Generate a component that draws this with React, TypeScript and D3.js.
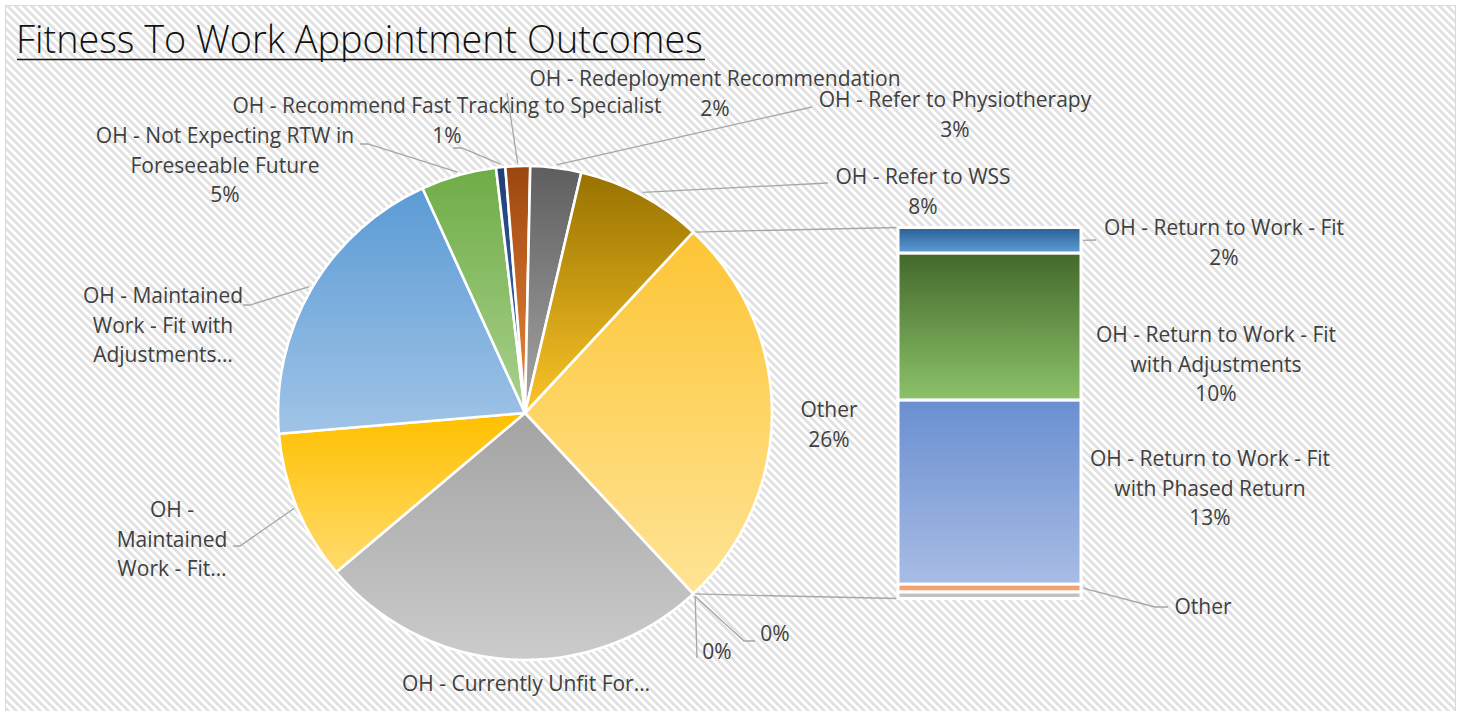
import React from "react";
import * as d3 from "d3";

// ---------- DATA ----------
const pieCategories = [
  "Other",
  "Zero A",
  "Zero B",
  "OH - Currently Unfit For...",
  "OH - Maintained Work - Fit...",
  "OH - Maintained Work - Fit with Adjustments...",
  "OH - Not Expecting RTW in Foreseeable Future",
  "OH - Recommend Fast Tracking to Specialist",
  "OH - Redeployment Recommendation",
  "OH - Refer to Physiotherapy",
  "OH - Refer to WSS",
];
// values for all pie slices except "Other" (which is the sum of the bar)
const pieValues = [0, 0, 25.6, 9.75, 19.4, 4.9, 0.6, 1.6, 3.3, 8.2];

const barCategories = [
  "OH - Return to Work - Fit",
  "OH - Return to Work - Fit with Adjustments",
  "OH - Return to Work - Fit with Phased Return",
  "Other",
  "Other (2)",
];
const barValues = [1.8, 10.3, 12.9, 0.55, 0.45];

const titleText = "Fitness To Work Appointment Outcomes";

// ---------- STYLE / LAYOUT ----------
const W = 1462;
const H = 711;
const cx = 525;
const cy = 413;
const R = 247;
const barX = 898;
const barW = 183;
const barTop = 227.5;
const barBottom = 598.5;
const FONT = "'Open Sans', 'Noto Sans', sans-serif";
const FS = 21;
const LH = 29.5;
const labelColor = "#404040";
const lineColor = "#a6a6a6";

const pieGradients: [string, string][] = [
  ["#fdc535", "#ffe496"], // Other
  ["#a5a5a5", "#c9c9c9"],
  ["#a5a5a5", "#c9c9c9"],
  ["#a3a3a3", "#cbcbcb"], // Currently unfit
  ["#ffc000", "#ffdb6e"], // Maintained fit
  ["#5b9bd5", "#a0c4e7"], // Maintained adj
  ["#6fac46", "#a9d18e"], // Not expecting
  ["#1f3e74", "#4472c4"], // Fast tracking
  ["#9b460f", "#ef8a3b"], // Redeploy
  ["#5e5e5e", "#a6a6a6"], // Physio
  ["#987200", "#fbc428"], // WSS
];
const barGradients: [string, string][] = [
  ["#295f93", "#5f9ed8"],
  ["#43682b", "#8cc26a"],
  ["#6a8fd1", "#a8bce5"],
  ["#f19a68", "#f4ab80"],
  ["#bdbdbd", "#c6c6c6"],
];

type LabelSpec = { x: number; y: number; lines: string[]; pct?: boolean; leader?: [number, number][] };

const pieLabels: LabelSpec[] = [
  { x: 829, y: 410, lines: ["Other"], pct: true },
  { x: 717, y: 652, lines: [], pct: true, leader: [[697, 658]] },
  { x: 775, y: 634, lines: [], pct: true, leader: [[744, 641], [755, 641]] },
  { x: 526, y: 684, lines: ["OH - Currently Unfit For…"] },
  { x: 172, y: 510, lines: ["OH -", "Maintained", "Work - Fit…"], leader: [[240, 546], [233, 546]] },
  { x: 163, y: 296, lines: ["OH - Maintained", "Work - Fit with", "Adjustments…"], leader: [[250, 305], [243, 305]] },
  { x: 225, y: 136, lines: ["OH - Not Expecting RTW in", "Foreseeable Future"], pct: true, leader: [[368, 144], [360, 144]] },
  { x: 447, y: 106, lines: ["OH - Recommend Fast Tracking to Specialist"], pct: true, leader: [[462, 148], [453, 148]] },
  { x: 715, y: 79, lines: ["OH - Redeployment Recommendation"], pct: true, leader: [[507, 93]] },
  { x: 955, y: 100, lines: ["OH - Refer to Physiotherapy"], pct: true, leader: [[812, 107]] },
  { x: 923, y: 177, lines: ["OH - Refer to WSS"], pct: true, leader: [[828, 183]] },
];
const barLabels: (LabelSpec | null)[] = [
  { x: 1224, y: 228, lines: ["OH - Return to Work - Fit"], pct: true, leader: [[1096, 240]] },
  { x: 1216, y: 335, lines: ["OH - Return to Work - Fit", "with Adjustments"], pct: true },
  { x: 1210, y: 459, lines: ["OH - Return to Work - Fit", "with Phased Return"], pct: true },
  { x: 1203, y: 607, lines: ["Other"], leader: [[1155, 607], [1168, 607]] },
  null,
];

function stripePath() {
  let d = "";
  for (let y = 0; y < 8; y++) {
    for (let k = 0; k < 4; k++) {
      const x = (y + k) % 8;
      d += `M${x} ${y}h1v1h-1z`;
    }
  }
  return d;
}

export default function App() {
  const otherTotal = d3.sum(barValues);
  const allPie = [otherTotal, ...pieValues];
  const total = d3.sum(allPie);
  const pct = d3.format(".0%");
  const startAngle = Math.PI / 2 - (otherTotal / total) * Math.PI;
  const arcs = d3
    .pie<number>()
    .sort(null)
    .value((d) => d)
    .startAngle(startAngle)
    .endAngle(startAngle + 2 * Math.PI)(allPie);
  const arcGen = d3.arc<d3.PieArcDatum<number>>().innerRadius(0).outerRadius(R);
  const pt = (a: number, rad: number): [number, number] => [cx + rad * Math.sin(a), cy - rad * Math.cos(a)];

  const y = d3.scaleLinear().domain([0, otherTotal]).range([barTop, barBottom]);
  const cum = [0, ...Array.from(d3.cumsum(barValues))];

  const otherArc = arcs[0];
  const p1 = pt(otherArc.startAngle, R);
  const p2 = pt(otherArc.endAngle, R);

  const renderLabel = (spec: LabelSpec, pctText: string, start: [number, number] | null, key: string) => {
    const lines = [...spec.lines];
    if (spec.pct) lines.push(pctText);
    return (
      <g key={key}>
        {spec.leader && start && (
          <polyline
            points={[start, ...spec.leader].map((p) => p.join(",")).join(" ")}
            fill="none"
            stroke={lineColor}
            strokeWidth={1.3}
          />
        )}
        {lines.map((t, i) => (
          <text
            key={i}
            x={spec.x}
            y={spec.y + i * LH}
            dy="0.35em"
            textAnchor="middle"
            fontFamily={FONT}
            fontSize={FS}
            fill={labelColor}
          >
            {t}
          </text>
        ))}
      </g>
    );
  };

  return (
    <svg width={W} height={H} style={{ position: "absolute", left: 0, top: 0, display: "block" }}>
      <defs>
        <pattern id="bgpat" width={8} height={8} patternUnits="userSpaceOnUse">
          <rect width={8} height={8} fill="#ffffff" />
          <path d={stripePath()} fill="#e2e2e2" shapeRendering="crispEdges" />
        </pattern>
        {pieGradients.map((g, i) => (
          <linearGradient key={i} id={`pg${i}`} x1={0} y1={0} x2={0} y2={1}>
            <stop offset="0" stopColor={g[0]} />
            <stop offset="1" stopColor={g[1]} />
          </linearGradient>
        ))}
        {barGradients.map((g, i) => (
          <linearGradient key={i} id={`bg${i}`} x1={0} y1={0} x2={0} y2={1}>
            <stop offset="0" stopColor={g[0]} />
            <stop offset="1" stopColor={g[1]} />
          </linearGradient>
        ))}
      </defs>
      <rect x={0} y={0} width={W} height={H} fill="#ffffff" />
      <rect x={5.5} y={5.5} width={1450} height={H + 10} fill="url(#bgpat)" stroke="#d9d9d9" strokeWidth={1} />

      {/* title */}
      <text x={16} y={53} fontFamily={FONT} fontWeight={300} fontSize={37.8} fill="#111111">
        {titleText}
      </text>
      <line x1={17} x2={705} y1={59.5} y2={59.5} stroke="#111111" strokeWidth={1.6} />

      {/* connector lines */}
      <line x1={p1[0]} y1={p1[1]} x2={barX} y2={barTop} stroke={lineColor} strokeWidth={1.3} />
      <line x1={p2[0]} y1={p2[1]} x2={barX} y2={barBottom} stroke={lineColor} strokeWidth={1.3} />

      {/* pie */}
      {arcs.map((a, i) =>
        a.endAngle - a.startAngle > 0 ? (
          <path
            key={pieCategories[i]}
            d={arcGen(a) || ""}
            transform={`translate(${cx},${cy})`}
            fill={`url(#pg${i})`}
            stroke="#ffffff"
            strokeWidth={2.6}
            strokeLinejoin="round"
          />
        ) : null
      )}

      {/* bar */}
      {barValues.map((v, i) => (
        <rect
          key={barCategories[i]}
          x={barX}
          y={y(cum[i])}
          width={barW}
          height={y(cum[i + 1]) - y(cum[i])}
          fill={`url(#bg${i})`}
          stroke="#ffffff"
          strokeWidth={3}
        />
      ))}

      {/* pie labels */}
      {arcs.map((a, i) => {
        const spec = pieLabels[i];
        const mid = (a.startAngle + a.endAngle) / 2;
        const start = pt(mid, R + 3);
        return renderLabel(spec, pct(a.value / total), start, "pl" + i);
      })}

      {/* bar labels */}
      {barValues.map((v, i) => {
        const spec = barLabels[i];
        if (!spec) return null;
        const start: [number, number] = [barX + barW + 2, (y(cum[i]) + y(cum[i + 1])) / 2];
        return renderLabel(spec, pct(v / total), start, "bl" + i);
      })}
    </svg>
  );
}
